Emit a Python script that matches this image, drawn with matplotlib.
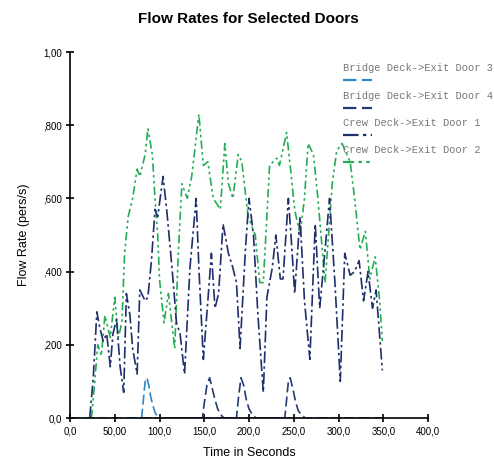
import numpy as np
import matplotlib
matplotlib.use("Agg")
import matplotlib.pyplot as plt
from matplotlib.lines import Line2D

# series (time in s, flow rate in pers/s)
t_door3 = [0, 80, 82, 84, 86, 88, 90, 92, 95, 98, 100, 350]
v_door3 = [0, 0, 0.05, 0.10, 0.11, 0.09, 0.06, 0.04, 0.015, 0.003, 0, 0]

t_door4 = [0, 148, 150, 153, 156, 159, 162, 165, 168, 172, 186, 188, 191, 194,
           197, 200, 204, 208, 240, 242, 244, 246, 249, 252, 255, 259, 263, 350]
v_door4 = [0, 0, 0.04, 0.09, 0.11, 0.08, 0.05, 0.025, 0.01, 0, 0, 0.05, 0.11, 0.09,
           0.05, 0.025, 0.008, 0, 0, 0.05, 0.10, 0.11, 0.08, 0.045, 0.02, 0.007, 0, 0]

t_crew1 = [22, 26, 30, 33, 37, 41, 45, 48, 52, 56, 60, 63, 67, 70, 75, 78, 84, 87,
           91, 95, 98, 104, 108, 114, 119, 123, 128, 134, 141, 144, 149, 154, 158,
           162, 166, 171, 177, 182, 186, 190, 196, 200, 205, 210, 216, 220, 226,
           230, 235, 238, 244, 248, 251, 257, 262, 268, 274, 279, 285, 290, 296,
           302, 307, 313, 318, 323, 328, 333, 338, 342, 349]
v_crew1 = [0.0, 0.11, 0.29, 0.25, 0.21, 0.23, 0.14, 0.23, 0.27, 0.14, 0.07, 0.34,
           0.28, 0.19, 0.12, 0.35, 0.32, 0.33, 0.43, 0.57, 0.55, 0.66, 0.57, 0.41,
           0.26, 0.23, 0.12, 0.41, 0.60, 0.41, 0.16, 0.32, 0.45, 0.30, 0.34, 0.53,
           0.45, 0.41, 0.37, 0.19, 0.46, 0.60, 0.50, 0.28, 0.07, 0.33, 0.41, 0.50,
           0.38, 0.38, 0.60, 0.46, 0.34, 0.55, 0.32, 0.16, 0.53, 0.30, 0.46, 0.60,
           0.37, 0.10, 0.45, 0.39, 0.40, 0.43, 0.32, 0.40, 0.30, 0.35, 0.13]

t_crew2 = [24, 27, 31, 35, 39, 45, 50, 54, 58, 61, 65, 70, 75, 78, 84, 87, 92, 95,
           98, 100, 105, 110, 117, 121, 125, 131, 136, 144, 149, 154, 160, 168, 173,
           177, 182, 188, 192, 199, 207, 212, 216, 223, 231, 234, 242, 246, 251,
           257, 262, 266, 272, 277, 285, 293, 298, 304, 313, 318, 324, 330, 335,
           341, 346, 349]
v_crew2 = [0.0, 0.08, 0.20, 0.17, 0.28, 0.22, 0.33, 0.22, 0.26, 0.45, 0.55, 0.60,
           0.68, 0.66, 0.72, 0.79, 0.72, 0.60, 0.50, 0.38, 0.26, 0.34, 0.19, 0.45,
           0.64, 0.60, 0.66, 0.83, 0.69, 0.70, 0.60, 0.57, 0.75, 0.64, 0.60, 0.72,
           0.70, 0.55, 0.50, 0.37, 0.37, 0.69, 0.71, 0.69, 0.78, 0.69, 0.57, 0.50,
           0.60, 0.75, 0.72, 0.60, 0.37, 0.64, 0.73, 0.75, 0.70, 0.60, 0.46, 0.51,
           0.38, 0.44, 0.32, 0.21]

labels = ["Bridge Deck->Exit Door 3", "Bridge Deck->Exit Door 4",
          "Crew Deck->Exit Door 1", "Crew Deck->Exit Door 2"]
colors = ["#2f86c8", "#243a72", "#1f2f6a", "#25ad55"]
dashes = [(6, 2.5), (6, 2.5), (7, 2, 1.5, 2), (5, 2, 1.5, 2, 1.5, 2)]

fig = plt.figure(figsize=(4.94, 4.61), dpi=100)
ax = fig.add_axes([70 / 494, 43 / 461, 358 / 494, 366 / 461])

series = [(t_door3, v_door3), (t_door4, v_door4), (t_crew1, v_crew1), (t_crew2, v_crew2)]
for i in [3, 2, 1, 0]:
    t, v = series[i]
    ax.plot(t, v, color=colors[i], lw=1.2, dashes=dashes[i])

ax.set_xlim(0, 400)
ax.set_ylim(0, 1.0)
ax.set_xticks(np.arange(0, 401, 50))
ax.set_xticklabels(["0,0", "50,00", "100,0", "150,0", "200,0", "250,0",
                    "300,0", "350,0", "400,0"])
ax.set_yticks(np.arange(0, 1.01, 0.2))
ax.set_yticklabels(["0,0", ",200", ",400", ",600", ",800", "1,00"])
for s in ["top", "right"]:
    ax.spines[s].set_visible(False)
for s in ["left", "bottom"]:
    ax.spines[s].set_linewidth(1.2)
ax.tick_params(direction="inout", length=6, width=1.2, pad=3)
for lab in ax.get_xticklabels() + ax.get_yticklabels():
    lab.set_family(["Liberation Sans", "DejaVu Sans"])
    lab.set_fontsize(7)

ax.set_xlabel("Time in Seconds", fontsize=9, family=["Liberation Sans", "DejaVu Sans"],
              labelpad=8)
ax.set_ylabel("Flow Rate (pers/s)", fontsize=9, family=["Liberation Sans", "DejaVu Sans"],
              labelpad=9)
fig.suptitle("Flow Rates for Selected Doors", x=248 / 494, y=0.975, fontsize=11,
             fontweight="bold", family=["Liberation Sans", "DejaVu Sans"])

# legend drawn as text above a line sample, like the reference
leg_y = [68, 96, 123, 150]
for i in range(4):
    y = 1 - leg_y[i] / 461
    fig.text(343 / 494, y, labels[i], fontsize=7.5, color="#777777",
             family=["Liberation Mono", "DejaVu Sans Mono"], va="center", ha="left")
    yl = 1 - (leg_y[i] + 12) / 461
    fig.add_artist(Line2D([343 / 494, 372 / 494], [yl, yl], color=colors[i], lw=1.6,
                          dashes=dashes[i], transform=fig.transFigure))

fig.savefig("out.png", dpi=100)
